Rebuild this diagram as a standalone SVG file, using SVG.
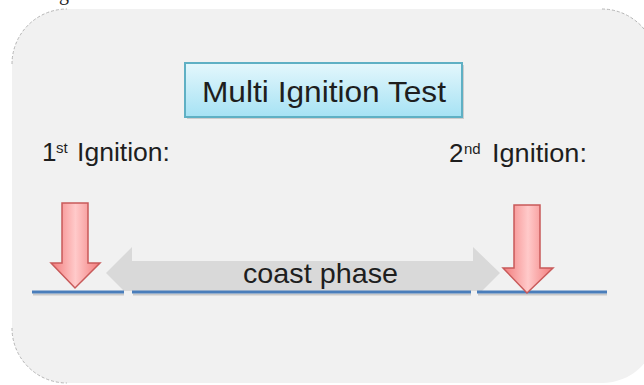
<svg xmlns="http://www.w3.org/2000/svg" width="644" height="385" viewBox="0 0 644 385">
  <style>
    .lbl { font-family: "Liberation Sans", Arial, sans-serif; fill: #1e1e1e; }
    .redarrow { fill: url(#redGrad); stroke: #c85a5a; stroke-width: 1.5; stroke-linejoin: miter; }
    .axis { stroke: #4a7ebb; stroke-width: 3; }
    .axisShadow { stroke: #9a9a9a; stroke-width: 2; opacity: 0.45; }
    .corner { fill: none; stroke: #b5b5b5; stroke-width: 1; stroke-dasharray: 3 2; }
  </style>
  <defs>
    <linearGradient id="titleGrad" x1="0" y1="0" x2="0" y2="1">
      <stop offset="0" stop-color="#e4f7fc"/>
      <stop offset="1" stop-color="#a6e2f4"/>
    </linearGradient>
    <linearGradient id="redGrad" x1="0" y1="0" x2="1" y2="0">
      <stop offset="0" stop-color="#f27a7a"/>
      <stop offset="0.5" stop-color="#ffcaca"/>
      <stop offset="1" stop-color="#f27a7a"/>
    </linearGradient>
  </defs>

  <rect width="644" height="385" fill="#ffffff"/>
  <text x="59" y="0" font-family="Liberation Serif, serif" font-size="20" fill="#222">g</text>

  <g id="background">
    <rect x="12" y="9" width="645" height="374" rx="55" ry="55" fill="#f1f1f1"/>
    <path class="corner" d="M12,64 A55,55 0 0 1 67,9"/>
    <path class="corner" d="M602,9 A55,55 0 0 1 644,29"/>
    <path class="corner" d="M12,328 A55,55 0 0 0 67,383"/>
  </g>

  <g id="title">
    <rect x="187" y="65" width="277" height="54" fill="#8a8a8a" opacity="0.35"/>
    <rect x="185" y="63" width="277" height="54" fill="url(#titleGrad)" stroke="#5fb0c4" stroke-width="2"/>
    <text class="lbl" x="324" y="102" font-size="30" text-anchor="middle" textLength="244" lengthAdjust="spacingAndGlyphs">Multi Ignition Test</text>
  </g>

  <g id="label-first">
    <text class="lbl" y="161" font-size="26"><tspan x="42">1</tspan><tspan x="56" y="153" font-size="15">st</tspan><tspan x="77" y="161" textLength="93" lengthAdjust="spacingAndGlyphs">Ignition:</tspan></text>
  </g>

  <g id="label-second">
    <text class="lbl" y="162" font-size="26"><tspan x="449">2</tspan><tspan x="464" y="154" font-size="15">nd</tspan><tspan x="492" y="162" textLength="95" lengthAdjust="spacingAndGlyphs">Ignition:</tspan></text>
  </g>

  <g id="connectors">
    <path id="coast-arrow" d="M106,273 L132,247 V261 H473 V247 L500,273 L482,291 H124 Z" fill="#d9d9d9"/>
    <text class="lbl" x="320.5" y="283" font-size="28" text-anchor="middle" textLength="155" lengthAdjust="spacingAndGlyphs">coast phase</text>
    <g id="timeline">
      <line class="axisShadow" x1="33" y1="294.5" x2="124" y2="294.5"/>
      <line class="axisShadow" x1="133" y1="294.5" x2="471" y2="294.5"/>
      <line class="axisShadow" x1="478" y1="294.5" x2="607" y2="294.5"/>
      <line class="axis" x1="32" y1="292" x2="124" y2="292"/>
      <line class="axis" x1="132" y1="292" x2="471" y2="292"/>
      <line class="axis" x1="477" y1="292" x2="607" y2="292"/>
    </g>
  </g>

  <g id="ignition-1">
    <path class="redarrow" d="M62,203 H88 V263 H100 L75,288 L51,263 H62 Z"/>
  </g>

  <g id="ignition-2">
    <path class="redarrow" d="M514,205 H540 V268 H553 L527,293 L503,268 H514 Z"/>
  </g>
</svg>
